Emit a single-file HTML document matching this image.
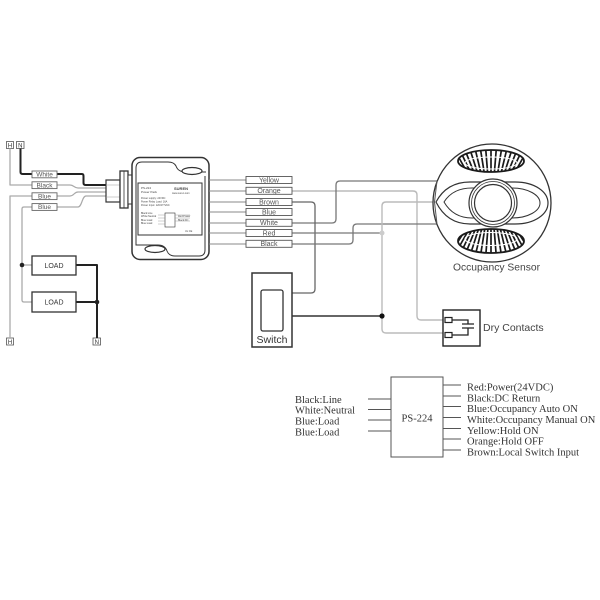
<!DOCTYPE html>
<html><head><meta charset="utf-8"><style>
html,body{margin:0;padding:0;background:#fff;}
svg{display:block;}
.s{font-family:"Liberation Sans",sans-serif;}
.r{font-family:"Liberation Serif",serif;}
</style></head><body>
<svg width="600" height="600" viewBox="0 0 600 600" xmlns="http://www.w3.org/2000/svg">
<rect width="600" height="600" fill="#fff"/>
<defs>
<clipPath id="ft"><ellipse cx="491" cy="161" rx="33" ry="11"/></clipPath>
<clipPath id="fb"><ellipse cx="491" cy="241" rx="33" ry="12"/></clipPath>
</defs>

<!-- LEFT: H / N terminals -->
<g class="s" font-size="6" fill="#333" text-anchor="middle">
<rect x="6.5" y="141.5" width="7" height="7" fill="#fff" stroke="#555" stroke-width="0.8"/>
<text x="10" y="147.3">H</text>
<rect x="16.5" y="141.5" width="7.5" height="7" fill="#fff" stroke="#555" stroke-width="0.8"/>
<text x="20.3" y="147.3">N</text>
<rect x="6.5" y="338" width="7" height="7" fill="#fff" stroke="#555" stroke-width="0.8"/>
<text x="10" y="343.8">H</text>
<rect x="93" y="338" width="7.5" height="7" fill="#fff" stroke="#555" stroke-width="0.8"/>
<text x="96.8" y="343.8">N</text>
</g>

<!-- left wires -->
<g fill="none" stroke-linejoin="round">
<path d="M20.5 148.5 V172 Q20.5 174 23 174 H32" stroke="#222" stroke-width="2"/>
<path d="M57 174 H82 Q83.5 174 83.5 176 V183 Q83.5 185 86 185 H106" stroke="#222" stroke-width="2"/>
<path d="M10 148.5 V185 H32" stroke="#aaa" stroke-width="1.3"/>
<path d="M57 185 H70 C74 185 74 188 78 188 H106" stroke="#aaa" stroke-width="1.2"/>
<path d="M10 338 V196 H32" stroke="#aaa" stroke-width="1.3"/>
<path d="M57 196 H70 C74 196 74 192 78 192 H106" stroke="#aaa" stroke-width="1.2"/>
<path d="M32 207 H24 Q22 207 22 209 V300 Q22 302 24 302 H32" stroke="#aaa" stroke-width="1.3"/>
<path d="M22 265 H32" stroke="#aaa" stroke-width="1.3"/>
<path d="M57 207 H78 C82 207 82 196 86 196 H106" stroke="#aaa" stroke-width="1.2"/>
<path d="M76 265 H97 V338" stroke="#222" stroke-width="2"/>
<path d="M76 302 H97" stroke="#222" stroke-width="2"/>
</g>
<circle cx="22" cy="265" r="2.3" fill="#222"/>
<circle cx="97" cy="302" r="2.3" fill="#222"/>

<g class="s" font-size="6.5" fill="#555" text-anchor="middle">
<rect x="32" y="171" width="25" height="6.8" fill="#fff" stroke="#666" stroke-width="0.9"/>
<text x="44.5" y="176.6">White</text>
<rect x="32" y="181.8" width="25" height="6.8" fill="#fff" stroke="#666" stroke-width="0.9"/>
<text x="44.5" y="187.4">Black</text>
<rect x="32" y="192.8" width="25" height="6.8" fill="#fff" stroke="#666" stroke-width="0.9"/>
<text x="44.5" y="198.4">Blue</text>
<rect x="32" y="203.6" width="25" height="6.8" fill="#fff" stroke="#666" stroke-width="0.9"/>
<text x="44.5" y="209.2">Blue</text>
</g>

<!-- LOADs -->
<g class="s" font-size="7" fill="#333" text-anchor="middle">
<rect x="32" y="256" width="44" height="19" fill="#fff" stroke="#333" stroke-width="1.3"/>
<text x="54" y="268">LOAD</text>
<rect x="32" y="292" width="44" height="20" fill="#fff" stroke="#333" stroke-width="1.3"/>
<text x="54" y="304.5">LOAD</text>
</g>

<!-- power pack module -->
<g fill="#fff" stroke="#333">
<rect x="106" y="180" width="14" height="22" stroke-width="1.2"/>
<line x1="106" y1="185" x2="120" y2="185" stroke="#999" stroke-width="0.5"/>
<line x1="106" y1="197" x2="120" y2="197" stroke="#999" stroke-width="0.5"/>
<rect x="120" y="171" width="8" height="37" stroke-width="1.3"/>
<line x1="124" y1="171" x2="124" y2="208" stroke-width="0.8"/>
<rect x="128" y="175" width="4" height="29" stroke-width="1"/>
<rect x="132" y="157.5" width="77" height="102" rx="8" stroke-width="1.5"/>
<path d="M136 172 V168 Q136 162 142 162 H168 Q174 162 176 166 Q178 172 186 172 H206" fill="none" stroke-width="1"/>
<path d="M205 176 V250 Q205 256 199 256 H175 Q169 256 167 251 Q165 245 158 245 H136 V172" fill="none" stroke-width="1"/>
<ellipse cx="192" cy="171" rx="10" ry="3.5" stroke-width="1.2"/>
<ellipse cx="155" cy="249" rx="10" ry="3.5" stroke-width="1.2"/>
<rect x="138" y="183" width="64" height="52" stroke-width="1"/>
<rect x="165" y="213" width="10" height="14" stroke-width="0.6"/>
</g>
<g class="s" font-size="3" fill="#444">
<text x="141" y="189">PS-224</text>
<text x="141" y="193">Power Pack</text>
<text x="174" y="190" font-size="4" font-weight="bold">SUREN</text>
<text x="172" y="194" font-size="2.5">www.suren.com</text>
<text x="141" y="199" font-size="2.5">Power supply: 24VDC</text>
<text x="141" y="202.5" font-size="2.5">Power Relay Load: 16A</text>
<text x="141" y="206" font-size="2.5">Power Input: 120/277VAC</text>
<text x="141" y="214" font-size="2.5">Black:Line</text>
<text x="141" y="217" font-size="2.5">White:Neutral</text>
<text x="141" y="221" font-size="2.5">Blue:Load</text>
<text x="141" y="224" font-size="2.5">Blue:Load</text>
<text x="178" y="217" font-size="2.5">Red:Power</text>
<text x="178" y="221" font-size="2.5">Black:DC</text>
<text x="185" y="232" font-size="2.5">UL  CE</text>
</g>
<g stroke="#888" stroke-width="0.4">
<line x1="158" y1="215" x2="165" y2="215"/><line x1="158" y1="218" x2="165" y2="218"/>
<line x1="158" y1="221" x2="165" y2="221"/><line x1="158" y1="224" x2="165" y2="224"/>
<line x1="175" y1="215" x2="190" y2="215"/><line x1="175" y1="218" x2="190" y2="218"/>
<line x1="175" y1="221" x2="190" y2="221"/>
</g>

<!-- module to label lines -->
<g stroke="#888" stroke-width="1">
<line x1="209" y1="180" x2="246" y2="180"/>
<line x1="209" y1="191" x2="246" y2="191"/>
<line x1="209" y1="202" x2="246" y2="202"/>
<line x1="209" y1="212" x2="246" y2="212"/>
<line x1="209" y1="223" x2="246" y2="223"/>
<line x1="209" y1="233" x2="246" y2="233"/>
<line x1="209" y1="244" x2="246" y2="244"/>
</g>

<!-- right wires -->
<g fill="none" stroke-linejoin="round">
<path d="M292 191 H413 Q417 191 417 195 V316 Q417 320 421 320 H445" stroke="#bbb" stroke-width="1.4"/>
<path d="M292 223 H332 Q336 223 336 219 V185 Q336 181 340 181 H437" stroke="#777" stroke-width="1.3"/>
<path d="M292 202 H311 Q315 202 315 206 V289 Q315 293 311 293 H292" stroke="#666" stroke-width="1.3"/>
<path d="M292 233 H382" stroke="#777" stroke-width="1.3"/>
<path d="M292 244 H349 Q353 244 353 240 V228 Q353 224 357 224 H437" stroke="#777" stroke-width="1.3"/>
<path d="M436 202 H386 Q382 202 382 206 V329 Q382 333 386 333 H445" stroke="#bbb" stroke-width="1.4"/>
<path d="M292 316 H382" stroke="#333" stroke-width="1.5"/>
</g>
<circle cx="382" cy="233" r="2.5" fill="#ccc"/>
<circle cx="382" cy="316" r="2.6" fill="#111"/>

<!-- right label boxes -->
<g class="s" font-size="7" fill="#555" text-anchor="middle">
<rect x="246" y="176.5" width="46" height="7" fill="#fff" stroke="#555" stroke-width="0.9"/>
<text x="269" y="182.4">Yellow</text>
<rect x="246" y="187.3" width="46" height="7" fill="#fff" stroke="#555" stroke-width="0.9"/>
<text x="269" y="193.2">Orange</text>
<rect x="246" y="198.5" width="46" height="7" fill="#fff" stroke="#555" stroke-width="0.9"/>
<text x="269" y="204.4">Brown</text>
<rect x="246" y="208.5" width="46" height="7" fill="#fff" stroke="#555" stroke-width="0.9"/>
<text x="269" y="214.4">Blue</text>
<rect x="246" y="219.3" width="46" height="7" fill="#fff" stroke="#555" stroke-width="0.9"/>
<text x="269" y="225.2">White</text>
<rect x="246" y="229.5" width="46" height="7" fill="#fff" stroke="#555" stroke-width="0.9"/>
<text x="269" y="235.4">Red</text>
<rect x="246" y="240.3" width="46" height="7" fill="#fff" stroke="#555" stroke-width="0.9"/>
<text x="269" y="246.2">Black</text>
</g>

<!-- Switch -->
<rect x="252" y="273" width="40" height="74" fill="#fff" stroke="#333" stroke-width="1.5"/>
<rect x="261" y="290" width="22" height="41" rx="2" fill="#fff" stroke="#333" stroke-width="1.3"/>
<text x="272" y="343" class="s" font-size="10.5" fill="#333" text-anchor="middle">Switch</text>

<!-- Occupancy sensor -->
<circle cx="492" cy="203" r="59" fill="#fff" stroke="#333" stroke-width="1.3"/>
<path d="M437 181 L434.5 202 L437 224" fill="none" stroke="#555" stroke-width="1"/>
<path d="M436 202 C444 187 456 182 470 182 L515 182 C535 182 548 192 548 203 C548 214 535 224 515 224 L470 224 C456 224 444 218 436 202 Z" fill="#fff" stroke="#333" stroke-width="1.2"/>
<path d="M444 202 C451 191 461 188 472 188 L512 188 C528 188 540 195 540 203 C540 211 528 218 512 218 L472 218 C461 218 451 214 444 202 Z" fill="none" stroke="#333" stroke-width="1"/>
<circle cx="493" cy="203" r="24" fill="#fff" stroke="#333" stroke-width="1.2"/>
<circle cx="493" cy="203" r="21.5" fill="none" stroke="#333" stroke-width="0.8"/>
<circle cx="493" cy="203" r="18.5" fill="#fff" stroke="#333" stroke-width="1.2"/>
<!-- fans -->
<ellipse cx="491" cy="161" rx="33" ry="11" fill="#fff"/>
<g clip-path="url(#ft)" stroke="#1a1a1a" stroke-width="1.7">
<path d="M491 215L437 140M491 215L443 140M491 215L449 140M491 215L455 140M491 215L461 140M491 215L467 140M491 215L473 140M491 215L479 140M491 215L485 140M491 215L491 140M491 215L497 140M491 215L503 140M491 215L509 140M491 215L515 140M491 215L521 140M491 215L527 140M491 215L533 140M491 215L539 140M491 215L545 140"/>
</g>
<ellipse cx="491" cy="161" rx="33" ry="11" fill="none" stroke="#1a1a1a" stroke-width="1.8"/>
<ellipse cx="491" cy="163" rx="26" ry="6" fill="none" stroke="#fff" stroke-width="1"/>
<ellipse cx="491" cy="241" rx="33" ry="12" fill="#fff"/>
<g clip-path="url(#fb)" stroke="#1a1a1a" stroke-width="1.7">
<path d="M491 190L437 265M491 190L443 265M491 190L449 265M491 190L455 265M491 190L461 265M491 190L467 265M491 190L473 265M491 190L479 265M491 190L485 265M491 190L491 265M491 190L497 265M491 190L503 265M491 190L509 265M491 190L515 265M491 190L521 265M491 190L527 265M491 190L533 265M491 190L539 265M491 190L545 265"/>
</g>
<ellipse cx="491" cy="241" rx="33" ry="12" fill="none" stroke="#1a1a1a" stroke-width="1.8"/>
<ellipse cx="491" cy="239" rx="26" ry="6.5" fill="none" stroke="#fff" stroke-width="1"/>
<text x="453" y="270.5" class="s" font-size="10.3" fill="#444">Occupancy Sensor</text>

<!-- Dry contacts -->
<rect x="443" y="310" width="37" height="36" fill="#fff" stroke="#222" stroke-width="1.4"/>
<rect x="445" y="317.5" width="7" height="5" fill="#fff" stroke="#222" stroke-width="1.2"/>
<rect x="445" y="332.5" width="7" height="5" fill="#fff" stroke="#222" stroke-width="1.2"/>
<path d="M452 320 H468 V324 M462 324 H474 M462 328 H474 M468 328 V335 H452" fill="none" stroke="#222" stroke-width="1.3"/>
<text x="483" y="331" class="s" font-size="10.5" fill="#444">Dry Contacts</text>

<!-- PS-224 legend -->
<rect x="391" y="377" width="52" height="80" fill="#fff" stroke="#555" stroke-width="1"/>
<text x="417" y="421.5" class="r" font-size="10.5" fill="#333" text-anchor="middle">PS-224</text>
<g stroke="#555" stroke-width="1">
<line x1="368" y1="399" x2="391" y2="399"/>
<line x1="368" y1="409.5" x2="391" y2="409.5"/>
<line x1="368" y1="420" x2="391" y2="420"/>
<line x1="368" y1="431" x2="391" y2="431"/>
<line x1="443" y1="385" x2="461" y2="385"/>
<line x1="443" y1="396" x2="461" y2="396"/>
<line x1="443" y1="406.5" x2="461" y2="406.5"/>
<line x1="443" y1="417.5" x2="461" y2="417.5"/>
<line x1="443" y1="428.5" x2="461" y2="428.5"/>
<line x1="443" y1="439" x2="461" y2="439"/>
<line x1="443" y1="450" x2="461" y2="450"/>
</g>
<g class="r" font-size="10.5" fill="#333">
<text x="295" y="403">Black:Line</text>
<text x="295" y="413.5">White:Neutral</text>
<text x="295" y="424.5">Blue:Load</text>
<text x="295" y="435.5">Blue:Load</text>
<text x="467" y="390.5">Red:Power(24VDC)</text>
<text x="467" y="401.5">Black:DC Return</text>
<text x="467" y="412">Blue:Occupancy Auto ON</text>
<text x="467" y="423">White:Occupancy Manual ON</text>
<text x="467" y="434">Yellow:Hold ON</text>
<text x="467" y="444.5">Orange:Hold OFF</text>
<text x="467" y="455.5">Brown:Local Switch Input</text>
</g>
</svg>
</body></html>
